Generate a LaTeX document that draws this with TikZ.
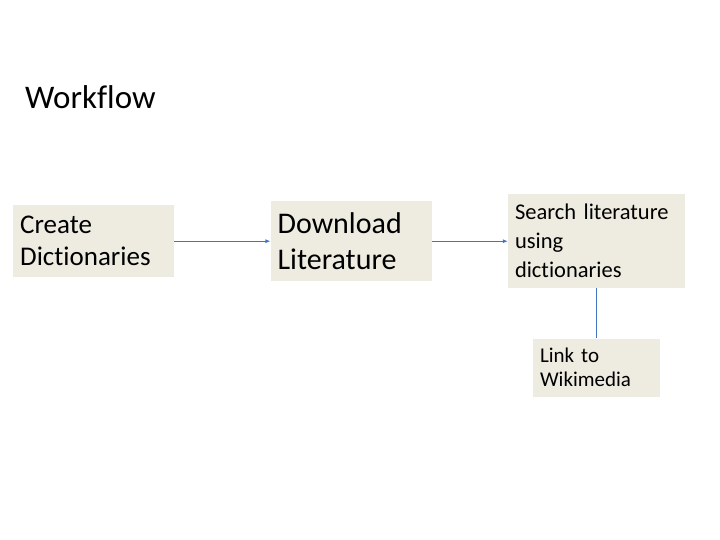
\documentclass[tikz,border=0pt]{standalone}
\usepackage{fontspec}
\setmainfont{Carlito}[Ligatures=NoCommon]
\usepackage{xcolor}
\usetikzlibrary{arrows.meta, positioning}

\definecolor{boxfill}{HTML}{EEECE1}
\definecolor{linkblue}{HTML}{4472C4}

\begin{document}
\begin{tikzpicture}[
        node distance=50bp and 96bp,
        stage/.style={rectangle, fill=boxfill, inner xsep=7bp, inner ysep=0pt, align=left},
        arrow/.style={-{Latex[length=5bp, width=4bp]}, draw=linkblue, line width=0.8bp},
        link/.style={draw=linkblue, line width=0.8bp},
    ]
        \useasboundingbox (0,0) rectangle (720bp,-540bp);

        % Title
        \node[anchor=base west, inner sep=0pt, font=\fontsize{33bp}{38bp}\selectfont] (title) at (25bp,-108bp) {Workflow};

        % Stages
        \node[stage, anchor=north west, text width=147bp, minimum height=72bp, font=\fontsize{27bp}{32bp}\selectfont] (create) at (13bp,-205bp) {Create\\Dictionaries};
        \node[stage, right=96bp of create, text width=147bp, minimum height=80bp, font=\fontsize{30bp}{36bp}\selectfont] (download) {Download\\Literature};
        \node[stage, right=76bp of download, text width=163bp, minimum height=94bp, font=\fontsize{22.5bp}{29bp}\selectfont] (search) {Search literature\\using\\dictionaries};

        % Side step
        \node[stage, below=50bp of search, text width=113bp, minimum height=58bp, font=\fontsize{21bp}{24bp}\selectfont] (wiki) {Link to\\Wikimedia};

        % Arrows
        \draw[arrow] (create) -- (download);
        \draw[arrow] (download) -- (search);
        \draw[link] (search) -- (wiki);
    \end{tikzpicture}
\end{document}
